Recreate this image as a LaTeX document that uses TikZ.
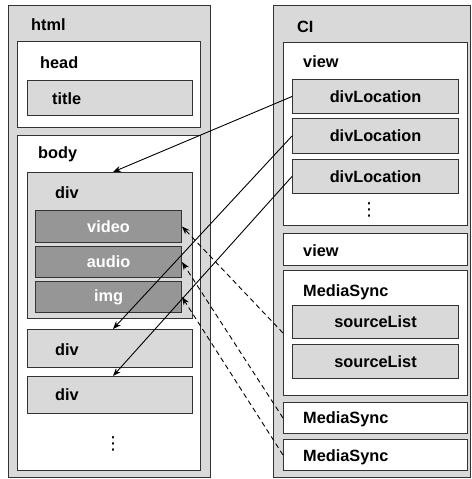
\documentclass[tikz,border=0pt]{standalone}
\usepackage{fontspec}
\setmainfont{Liberation Sans}
\newfontfamily\dotsfont{DejaVu Sans}
\usetikzlibrary{arrows.meta}

\definecolor{lightgrey}{HTML}{D9D9D9}
\definecolor{darkgrey}{HTML}{969696}
\definecolor{edgegrey}{HTML}{333333}

\tikzset{
	every node/.style={font=\fontsize{16.3}{19}\selectfont\bfseries},
	frame/.style={draw=edgegrey, line width=1pt, fill=white, anchor=north west, inner sep=0pt},
	shaded/.style={frame, fill=lightgrey},
	media/.style={frame, fill=darkgrey, text=white},
	lbl/.style={anchor=base west, inner sep=0pt},
	moredots/.style={font=\dotsfont\fontsize{18}{20}\selectfont, inner sep=0pt},
	link/.style={-{Stealth[length=8pt,width=6pt]}, line width=.9pt},
	dlink/.style={link, dash pattern=on 5pt off 3.5pt}
}

\begin{document}
\begin{tikzpicture}[x=1pt,y=-1pt]
	\useasboundingbox (0,0) rectangle (471,479);

	% html side
	\node[shaded, minimum width=202, minimum height=472] (html) at (8,5) {};
	\node[lbl] (htmlname) at (31,30) {html};
	\node[frame, minimum width=183, minimum height=86] (head) at (17,41) {};
	\node[lbl] (headname) at (40,68) {head};
	\node[shaded, minimum width=165, minimum height=35] (title) at (27,80) {};
	\node[lbl] (titlename) at (52,104) {title};
	\node[frame, minimum width=183, minimum height=335] (body) at (17,135) {};
	\node[lbl] (bodyname) at (38,158) {body};
	\node[shaded, minimum width=165, minimum height=146] (div1) at (27,172) {};
	\node[lbl] (div1name) at (55,198) {div};
	\node[media, minimum width=146, minimum height=32] (video) at (35,210) {video};
	\node[media, minimum width=146, minimum height=31] (audio) at (35,246) {audio};
	\node[media, minimum width=146, minimum height=31] (img) at (35,281) {img};
	\node[shaded, minimum width=165, minimum height=38] (div2) at (27,329) {};
	\node[lbl] (div2name) at (55,355) {div};
	\node[shaded, minimum width=165, minimum height=37] (div3) at (27,376) {};
	\node[lbl] (div3name) at (55,400) {div};
	\node[moredots] (htmldots) at (113,444) {⋮};

	% CI side
	\node[shaded, minimum width=197, minimum height=472] (ci) at (273,5) {};
	\node[lbl] (ciname) at (297,32) {CI};
	\node[frame, minimum width=184, minimum height=183] (view1) at (283,42) {};
	\node[lbl] (view1name) at (303,67) {view};
	\node[shaded, minimum width=166, minimum height=34] (loc1) at (292,79) {divLocation};
	\node[shaded, minimum width=166, minimum height=35] (loc2) at (292,118) {divLocation};
	\node[shaded, minimum width=166, minimum height=34] (loc3) at (292,159) {divLocation};
	\node[moredots] (cidots) at (369,210) {⋮};
	\node[frame, minimum width=184, minimum height=32] (view2) at (283,233) {};
	\node[lbl] (view2name) at (303,256) {view};
	\node[frame, minimum width=184, minimum height=125] (ms1) at (283,270) {};
	\node[lbl] (ms1name) at (303,296) {MediaSync};
	\node[shaded, minimum width=166, minimum height=33] (src1) at (292,305) {sourceList};
	\node[shaded, minimum width=166, minimum height=34] (src2) at (292,344) {sourceList};
	\node[frame, minimum width=184, minimum height=31] (ms2) at (283,402) {};
	\node[lbl] (ms2name) at (303,423) {MediaSync};
	\node[frame, minimum width=184, minimum height=31] (ms3) at (283,439) {};
	\node[lbl] (ms3name) at (303,461) {MediaSync};

	% connectors
	\draw[link] (loc1.west) -- ([xshift=3]div1.north);
	\draw[link] (loc2.west) -- ([xshift=3]div2.north);
	\draw[link] (loc3.west) -- ([xshift=3]div3.north);
	\draw[dlink] (ms1.west) -- (video.east);
	\draw[dlink] (ms2.west) -- (audio.east);
	\draw[dlink] (ms3.west) -- (img.east);
\end{tikzpicture}
\end{document}
